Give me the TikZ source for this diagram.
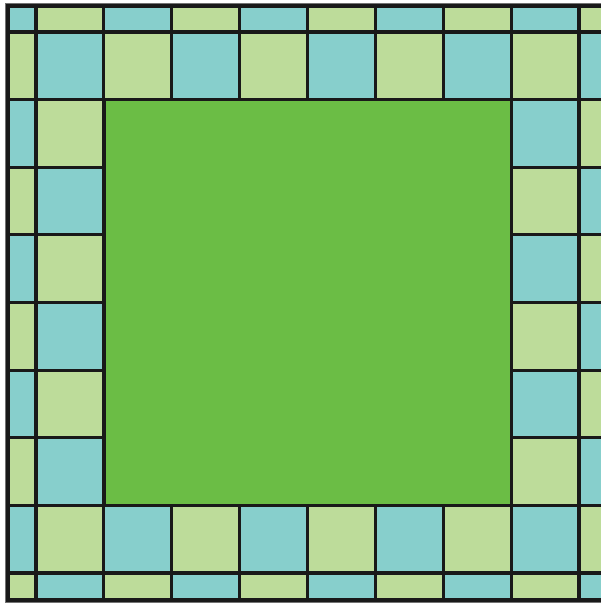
\documentclass[tikz,border=0pt]{standalone}
\usepackage{tikz}
\usetikzlibrary{positioning}

\definecolor{tealcell}{HTML}{87CFCC}
\definecolor{limecell}{HTML}{BDDC9A}
\definecolor{lawn}{HTML}{6BBD45}

\begin{document}
\begin{tikzpicture}[
            x=0.02cm, y=-0.02cm,
            tealtile/.style={fill=tealcell, draw=black!90, line width=1.8pt},
            limetile/.style={fill=limecell, draw=black!90, line width=1.8pt},
            lawnbox/.style={fill=lawn, draw=black!90, line width=1.8pt},
            outerframe/.style={draw=black!55, line width=2.2pt}
        ]
        \useasboundingbox (0,0) rectangle (601,603);
        \clip (0,0) rectangle (601,603);

        % Rahmen
        \draw[outerframe] (7,5) rectangle (660,601);

        % Kacheln
        \foreach \i in {0,...,9} {
            \foreach \j in {0,...,9} {
                \pgfmathsetmacro{\xa}{\i==0 ? 8 : 36+67.875*(\i-1)}
                \pgfmathsetmacro{\xb}{36+67.875*\i}
                \pgfmathsetmacro{\ya}{\j==0 ? 6 : 32+67.625*(\j-1)}
                \pgfmathsetmacro{\yb}{\j==9 ? 600 : 32+67.625*\j}
                \pgfmathtruncatemacro{\parity}{\i+\j}
                \ifodd\parity \def\tile{limetile}\else\def\tile{tealtile}\fi
                \path[\tile] (\xa,\ya) rectangle (\xb,\yb);
            }
        }

        % Mitte
        \path[lawnbox] (104,99.6) rectangle (511.25,505.4);

    \end{tikzpicture}
\end{document}
